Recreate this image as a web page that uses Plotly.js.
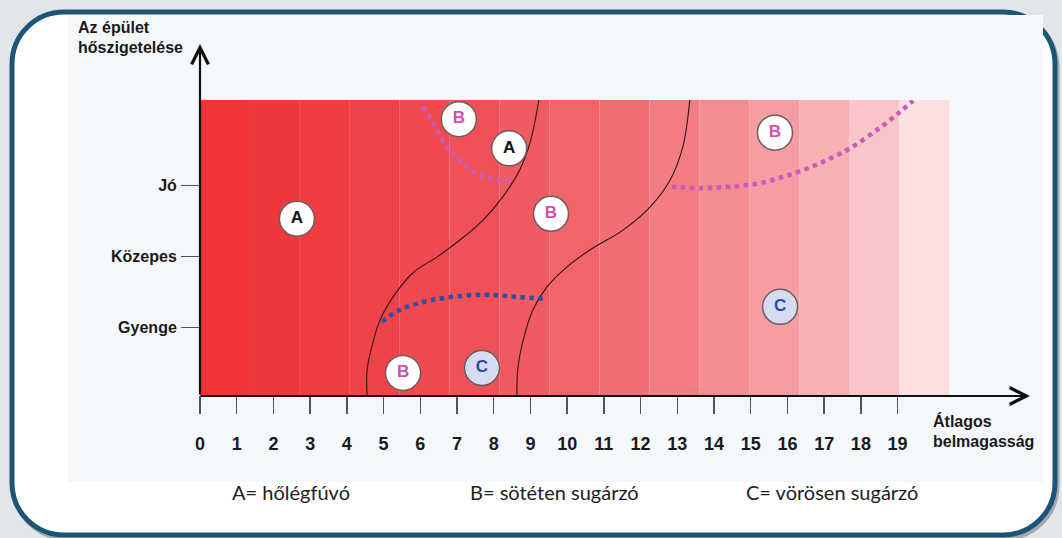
<!DOCTYPE html>
<html><head><meta charset="utf-8">
<script src="https://cdn.plot.ly/plotly-3.0.1.min.js"></script>
<style>html,body{margin:0;padding:0;background:#e2e6ea}#chart{width:1062px;height:538px}</style>
</head><body><div id="chart"></div>
<script>
// ---- data ----
const xTicks = [0,1,2,3,4,5,6,7,8,9,10,11,12,13,14,15,16,17,18,19];
const yTickVals = [1,2,3];
const yTickText = ['Gyenge','Közepes','Jó'];
const yTitleLines = ['Az épület','hőszigetelése'];
const xTitleLines = ['Átlagos','belmagasság'];
const legendTexts = ['A= hőlégfúvó','B= sötéten sugárzó','C= vörösen sugárzó'];

// boundary curves (black)
const curve1X = [4.55,4.55,4.68,4.90,5.26,5.80,6.45,7.08,7.71,8.25,8.71,8.99,9.23];
const curve1Y = [0.05,0.40,0.73,1.10,1.43,1.77,1.99,2.23,2.51,2.84,3.22,3.60,4.20];
const curve2X = [8.63,8.66,8.80,9.07,9.45,9.99,10.62,11.52,12.25,12.80,13.15,13.34];
const curve2Y = [0.05,0.44,0.82,1.25,1.57,1.85,2.09,2.37,2.69,3.07,3.54,4.20];

// dotted lines
const pink1X = [6.07,6.35,6.73,7.16,7.71,8.52];
const pink1Y = [4.10,3.88,3.54,3.31,3.12,3.07];
const pink2X = [12.85,13.62,14.43,15.25,16.07,16.88,17.70,18.52,19.06,19.42];
const pink2Y = [2.98,2.96,2.98,3.03,3.15,3.31,3.52,3.81,4.03,4.19];
const blueX = [4.96,5.45,6.35,7.71,8.63,9.45];
const blueY = [1.08,1.25,1.39,1.46,1.43,1.40];

// circle labels
const markerAX = [2.64,8.42];
const markerAY = [2.53,3.52];
const markerBX = [7.05,9.56,5.53,15.66];
const markerBY = [3.93,2.60,0.36,3.74];
const markerCX = [7.68,15.80];
const markerCY = [0.43,1.29];

// background colour bands, left to right
const bandColors = ['#ee3439','#ee383d','#ef3d42','#ef4349','#f0494f','#f05057','#f15a60',
  '#f2646a','#f26e75','#f37d83','#f48c92','#f59da2','#f7b0b4','#f9c5c8','#fcdfe1'];

// ---- layout helpers ----
const W = 1062, H = 538;
const X = p => p / W;
const Y = p => 1 - p / H;
const xMax = 20.4, yMin = 0.05, yMax = 4.2;
const bandW = xMax / bandColors.length;

function roundRect(x0, y0, x1, y1, r) {
  const k = 0.5523 * r;
  return `M${X(x0+r)},${Y(y0)} L${X(x1-r)},${Y(y0)} ` +
    `C${X(x1-r+k)},${Y(y0)} ${X(x1)},${Y(y0+r-k)} ${X(x1)},${Y(y0+r)} ` +
    `L${X(x1)},${Y(y1-r)} ` +
    `C${X(x1)},${Y(y1-r+k)} ${X(x1-r+k)},${Y(y1)} ${X(x1-r)},${Y(y1)} ` +
    `L${X(x0+r)},${Y(y1)} ` +
    `C${X(x0+r-k)},${Y(y1)} ${X(x0)},${Y(y1-r+k)} ${X(x0)},${Y(y1-r)} ` +
    `L${X(x0)},${Y(y0+r)} ` +
    `C${X(x0)},${Y(y0+r-k)} ${X(x0+r-k)},${Y(y0)} ${X(x0+r)},${Y(y0)} Z`;
}

const shapes = [
  {type:'path', xref:'paper', yref:'paper', layer:'below',
   path: roundRect(14, 15, 1057, 538, 52), fillcolor:'rgba(0,0,0,0)',
   line:{color:'#a4a9ae', width:5}},
  {type:'path', xref:'paper', yref:'paper', layer:'below',
   path: roundRect(12, 12, 1055, 535, 52), fillcolor:'#ffffff',
   line:{color:'#1d5577', width:5}},
  {type:'rect', xref:'paper', yref:'paper', layer:'below',
   x0:X(68), x1:X(1043), y0:Y(15), y1:Y(482), fillcolor:'#f5f8fa', line:{width:0}}
];
bandColors.forEach((c, i) => {
  shapes.push({type:'rect', xref:'x', yref:'y', layer:'below',
    x0: i*bandW, x1: (i+1)*bandW, y0: yMin, y1: yMax,
    fillcolor: c, line:{width:0}});
});

const boldFont = {family:'Liberation Sans, Arial, sans-serif', weight:'bold', color:'#1a1a1a'};

function lineTrace(x, y, color, width, dash) {
  return {type:'scatter', mode:'lines', x, y, hoverinfo:'skip',
    line:{color, width, dash: dash || 'solid', shape:'spline', smoothing:1}};
}
function circleTrace(x, y, letter, textColor, fill) {
  return {type:'scatter', mode:'markers+text', x, y, hoverinfo:'skip',
    text: x.map(() => letter), textposition:'middle center',
    textfont:{family:'Liberation Sans, Arial, sans-serif', weight:'bold', size:17, color:textColor},
    marker:{size:35, color:fill, line:{color:'#6e5e5e', width:1.5}}};
}

const data = [
  lineTrace(curve1X, curve1Y, '#2a1515', 1.1),
  lineTrace(curve2X, curve2Y, '#2a1515', 1.1),
  lineTrace(pink1X, pink1Y, '#c95bbd', 4.5, '4.5px,4.5px'),
  lineTrace(pink2X, pink2Y, '#c95bbd', 4.5, '4.5px,4.5px'),
  lineTrace(blueX, blueY, '#2d4fa8', 4.5, '4.5px,4.5px'),
  circleTrace(markerAX, markerAY, 'A', '#111111', '#ffffff'),
  circleTrace(markerBX, markerBY, 'B', '#d44fae', '#ffffff'),
  circleTrace(markerCX, markerCY, 'C', '#2d4aa3', '#d5dcf0')
];

const annotations = [
  // y axis arrow
  {xref:'paper', yref:'paper', x:X(200), y:Y(44), ax:0, ay:352, text:'', showarrow:true,
   arrowhead:5, arrowwidth:2.2, arrowsize:1.5, arrowcolor:'#111'},
  // x axis arrow
  {xref:'paper', yref:'paper', x:X(1030), y:Y(396), ax:-831, ay:0, text:'', showarrow:true,
   arrowhead:5, arrowwidth:2.2, arrowsize:1.5, arrowcolor:'#111'},
  {xref:'paper', yref:'paper', x:X(76), y:Y(28), xanchor:'left', yanchor:'middle', showarrow:false,
   text:yTitleLines[0], font:Object.assign({size:16}, boldFont)},
  {xref:'paper', yref:'paper', x:X(76), y:Y(48), xanchor:'left', yanchor:'middle', showarrow:false,
   text:yTitleLines[1], font:Object.assign({size:16}, boldFont)},
  {xref:'paper', yref:'paper', x:X(931), y:Y(421), xanchor:'left', yanchor:'middle', showarrow:false,
   text:xTitleLines[0], font:Object.assign({size:16}, boldFont)},
  {xref:'paper', yref:'paper', x:X(931), y:Y(441), xanchor:'left', yanchor:'middle', showarrow:false,
   text:xTitleLines[1], font:Object.assign({size:16}, boldFont)},
];
const legendX = [291, 554, 832];
legendTexts.forEach((t, i) => annotations.push({xref:'paper', yref:'paper', x:X(legendX[i]), y:Y(492),
  xanchor:'center', yanchor:'middle', showarrow:false, text:t,
  font:{family:'Lato, Open Sans, sans-serif', size:20, color:'#1e1e1e'}}));

const layout = {
  width: W, height: H,
  margin:{l:0, r:0, t:0, b:0, pad:0},
  paper_bgcolor:'#e2e6ea', plot_bgcolor:'rgba(0,0,0,0)',
  showlegend:false,
  xaxis:{domain:[X(200), X(949)], range:[0, xMax], tickvals:xTicks, ticktext:xTicks.map(String),
    ticks:'outside', ticklen:18, tickwidth:1.5, tickcolor:'#555',
    showline:false, zeroline:false, showgrid:false, fixedrange:true,
    tickfont:Object.assign({size:18}, boldFont), ticklabelstandoff:14},
  yaxis:{domain:[Y(395), Y(100)], range:[yMin, yMax], tickvals:yTickVals, ticktext:yTickText,
    ticks:'outside', ticklen:18, tickwidth:1.5, tickcolor:'#555',
    showline:false, zeroline:false, showgrid:false, fixedrange:true,
    tickfont:Object.assign({size:16}, boldFont), ticklabelstandoff:1},
  shapes, annotations
};

Plotly.newPlot('chart', data, layout, {displayModeBar:false, staticPlot:true});
</script></body></html>
